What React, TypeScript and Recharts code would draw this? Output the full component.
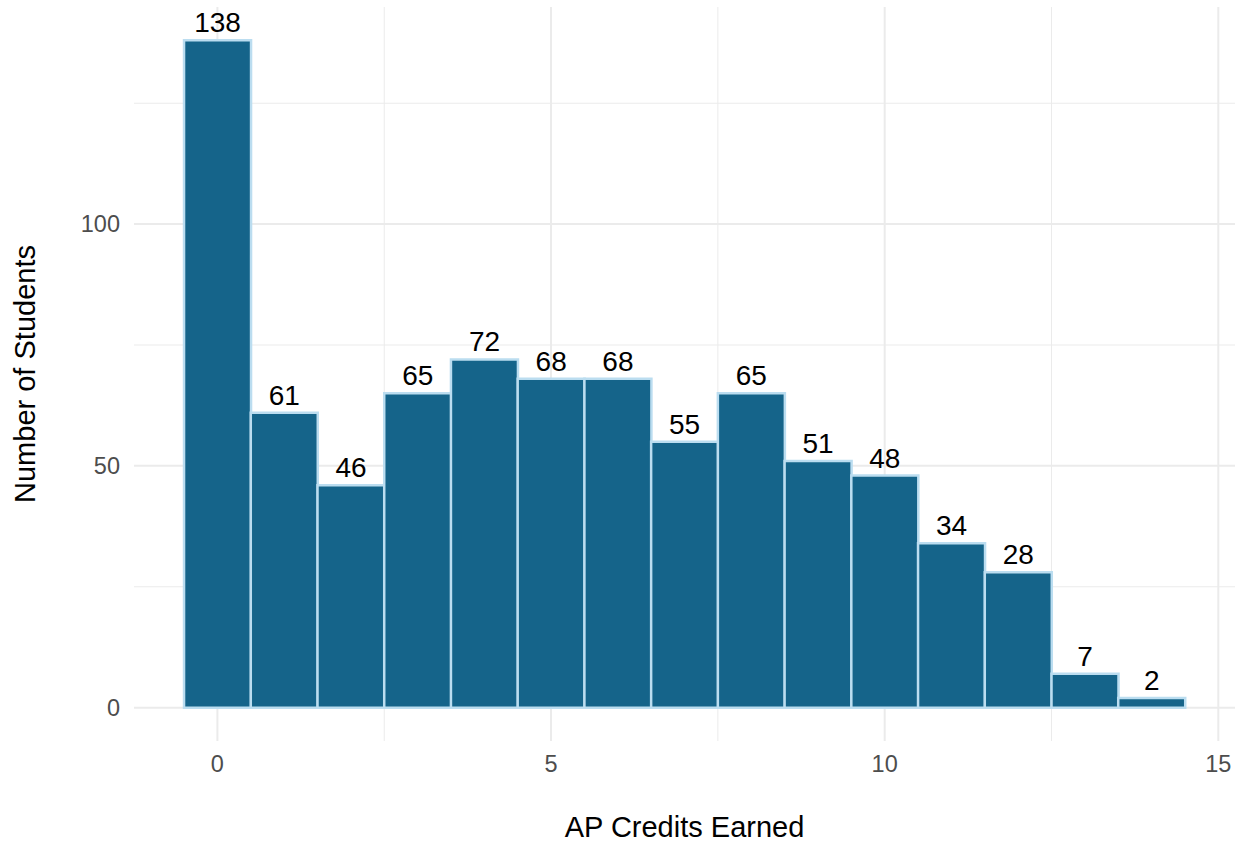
import React from 'react';
import { BarChart, Bar, XAxis, YAxis, CartesianGrid, LabelList, Label } from 'recharts';

const credits = [0, 1, 2, 3, 4, 5, 6, 7, 8, 9, 10, 11, 12, 13, 14];
const students = [138, 61, 46, 65, 72, 68, 68, 55, 65, 51, 48, 34, 28, 7, 2];
const xTicks = [0, 5, 10, 15];
const yTicks = [0, 50, 100];
const xMinor = [2.5, 7.5, 12.5];
const yMinor = [25, 75, 125];

const data = credits.map((c, i) => ({ credits: c, students: students[i] }));

const W = 1240;
const H = 846;
const margin = { top: 7, right: 5, left: 0, bottom: 0 };
const yAxisWidth = 134;
const xDomain: [number, number] = [-1.25, 15.25];
const plotWidth = W - margin.left - margin.right - yAxisWidth;
const unit = plotWidth / (xDomain[1] - xDomain[0]);
// half-bin + 5% expansion on each side of the category band range
const edgePad = (credits[0] - 0.5 - xDomain[0]) * unit;

const font = '"Liberation Sans", Arial, Helvetica, sans-serif';

const YTitle = (props: any) => {
    const { x, y, height } = props.viewBox;
    const cx = x + 35;
    const cy = y + height / 2;
    return (
        <text x={cx} y={cy} transform={`rotate(-90, ${cx}, ${cy})`} textAnchor="middle" fontSize={29} fill="#000" fontFamily={font}>
            Number of Students
        </text>
    );
};

const XTitle = (props: any) => {
    const { x, y, width } = props.viewBox;
    return (
        <text x={x + width / 2} y={y + 96} textAnchor="middle" fontSize={29} fill="#000" fontFamily={font}>
            AP Credits Earned
        </text>
    );
};

export default function App() {
    return (
        <div style={{ position: 'absolute', left: 0, top: 0, width: W, height: H, background: '#fff', fontFamily: font }}>
            <BarChart width={W} height={H} data={data} margin={margin} barCategoryGap="0%" barGap={0}>
                <CartesianGrid xAxisId="num" stroke="#EBEBEB" strokeWidth={1} horizontalValues={yMinor} verticalValues={xMinor} />
                <CartesianGrid xAxisId="num" stroke="#EBEBEB" strokeWidth={2} horizontalValues={yTicks} verticalValues={xTicks} />
                <XAxis
                    xAxisId="num"
                    dataKey="credits"
                    type="number"
                    domain={xDomain}
                    ticks={xTicks}
                    allowDataOverflow
                    height={105}
                    axisLine={false}
                    tickLine={false}
                    tickSize={0}
                    tickMargin={14}
                    tick={{ fontSize: 23.5, fill: '#4D4D4D', fontFamily: font }}
                >
                    <Label content={XTitle} />
                </XAxis>
                <XAxis
                    xAxisId="cat"
                    dataKey="credits"
                    type="category"
                    padding={{ left: edgePad, right: edgePad }}
                    height={0}
                    hide
                />
                <YAxis
                    type="number"
                    domain={[-6.9, 144.9]}
                    ticks={yTicks}
                    allowDataOverflow
                    width={yAxisWidth}
                    axisLine={false}
                    tickLine={false}
                    tickSize={0}
                    tickMargin={14}
                    tick={{ fontSize: 23.5, fill: '#4D4D4D', fontFamily: font }}
                >
                    <Label content={YTitle} />
                </YAxis>
                <Bar xAxisId="cat" dataKey="students" fill="#15648A" stroke="#BBDDF0" strokeWidth={2.5} isAnimationActive={false}>
                    <LabelList dataKey="students" position="top" offset={8} fontSize={28} fill="#000" fontFamily={font} />
                </Bar>
            </BarChart>
        </div>
    );
}
